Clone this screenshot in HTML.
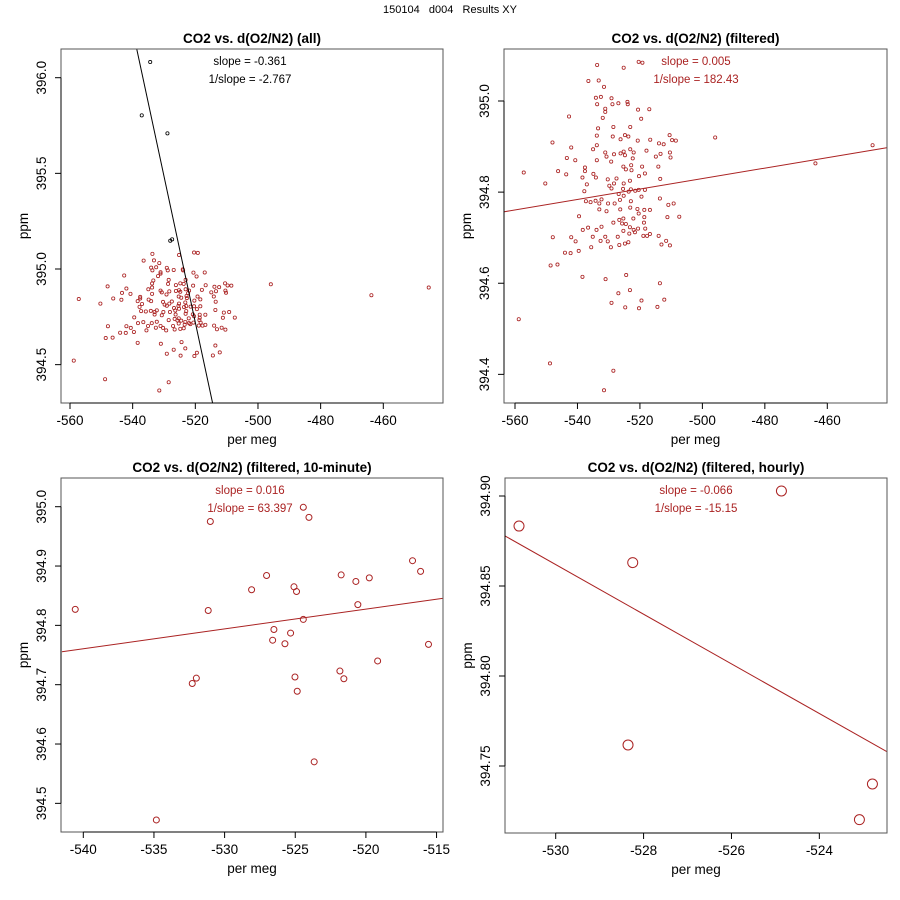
<!DOCTYPE html>
<html><head><meta charset="utf-8"><style>
body{margin:0;background:#fff;}
svg{display:block;font-family:"Liberation Sans",Arial,sans-serif;}
</style></head><body>
<svg id="chart" width="900" height="900" xmlns="http://www.w3.org/2000/svg">
<rect width="900" height="900" fill="#fff"/>
<text x="450" y="13" font-size="11" text-anchor="middle" style="white-space:pre">150104   d004   Results XY</text>
</svg>
<script>
// ---- data: filtered (red) raw points, shared by panels 1 & 2 ----
const rawX = [-533.7,-525.2,-520.4,-519.2,-536.5,-533.2,-531.5,-534.1,-532.5,-529.1,-533.7,-528.8,-526.9,-524.0,-523.9,-542.7,-531.1,-531.1,-531.9,-520.6,-517.0,-519.6,-533.4,-528.5,-523.1,
-548.0,-542.0,-533.8,-533.8,-528.7,-526.2,-524.8,-523.7,-520.7,-516.7,-513.9,-512.4,-510.5,-509.7,-508.5,-495.9,-445.5,-463.8,-557.2,-550.3,
-546.2,-543.6,-543.4,-540.7,-537.6,-537.6,-537.0,-538.4,-537.8,-534.9,-534.1,-533.8,-535.0,
-531.1,-530.7,-529.2,-528.3,-526.2,-525.2,-524.8,-523.1,-522.0,-517.9,-514.9,-514.1,-513.4,-510.4,-510.2,-519.3,-522.3,-522.8,-525.3,-524.5,-522.7,-520.3,-518.4,-513.5,-530.3,-527.5,-528.3,-525.2,-523.2,-525.4,-522.9,-520.4,-518.4,-526.8,-525.2,-523.6,-521.5,-519.5,-529.1,-529.8,
-537.3,-535.8,-534.2,-533.0,-530.2,-532.3,-533.0,-530.7,-528.1,-526.4,-522.9,-526.3,-523.1,-520.8,-518.6,-516.8,-513.6,-510.9,-509.2,-507.4,-511.2,-520.4,-518.6,-522.1,-525.3,-526.6,-528.5,-525.7,-524.5,-523.2,-522.0,-520.6,-518.7,-518.3,-517.7,-516.8,-514.0,-518.9,-521.6,-523.4,-525.3,-527.1,-530.3,-531.1,-532.6,-532.3,-533.9,-535.1,-538.3,-539.5,-536.6,-542.0,-540.6,-539.6,-542.2,-544.0,-546.4,-548.6,-547.9,-535.6,-529.3,-526.6,-524.8,-523.7,-513.1,-510.4,-511.6,
-524.4,-531.0,-513.6,-523.2,-526.9,-519.5,-512.2,-529.1,-524.7,-520.3,-514.4,-538.4,-558.8,-548.8,-528.5,-531.5];
const rawY = [395.079,395.073,395.086,395.084,395.044,395.045,395.031,395.007,395.009,395.006,394.993,394.993,394.995,394.998,394.993,394.966,394.983,394.976,394.963,394.981,394.982,394.961,394.940,394.943,394.943,
394.909,394.898,394.924,394.903,394.922,394.916,394.925,394.922,394.913,394.915,394.907,394.905,394.925,394.914,394.913,394.920,394.903,394.863,394.843,394.819,
394.846,394.839,394.875,394.870,394.854,394.846,394.817,394.832,394.802,394.840,394.832,394.870,394.894,
394.887,394.878,394.867,394.883,394.885,394.889,394.881,394.894,394.887,394.891,394.878,394.856,394.884,394.887,394.876,394.856,394.874,394.859,394.856,394.850,394.848,394.835,394.841,394.829,394.828,394.830,394.819,394.819,394.825,394.807,394.806,394.805,394.805,394.796,394.792,394.801,394.803,394.790,394.808,394.814,
394.780,394.778,394.781,394.775,394.775,394.784,394.762,394.758,394.775,394.783,394.780,394.762,394.766,394.763,394.761,394.761,394.786,394.772,394.775,394.746,394.745,394.753,394.745,394.742,394.742,394.739,394.733,394.731,394.730,394.723,394.717,394.720,394.733,394.720,394.704,394.708,394.704,394.704,394.712,394.709,394.715,394.702,394.692,394.702,394.693,394.724,394.717,394.702,394.717,394.747,394.722,394.701,394.692,394.671,394.666,394.667,394.641,394.639,394.701,394.679,394.679,394.684,394.687,394.690,394.685,394.683,394.693,
394.618,394.609,394.600,394.585,394.578,394.562,394.564,394.557,394.547,394.545,394.548,394.614,394.521,394.424,394.408,394.365];
// outliers (black) only in panel 1
const outX = [-534.4,-537.1,-528.9,-528.0,-527.4];
const outY = [396.082,395.803,395.709,395.148,395.155];
// 10-minute averages
const tenX = [-540.57,-534.83,-532.29,-532.00,-531.16,-531.01,-528.09,-527.03,-526.60,-526.51,-525.73,-525.33,-525.09,-525.02,-524.91,-524.86,-524.43,-524.43,-524.03,-523.66,-521.84,-521.75,-521.56,-520.71,-520.57,-519.76,-519.17,-516.70,-516.13,-515.57];
const tenY = [394.827,394.472,394.702,394.711,394.825,394.975,394.860,394.884,394.775,394.793,394.769,394.787,394.865,394.713,394.857,394.689,394.999,394.810,394.982,394.570,394.723,394.885,394.710,394.874,394.835,394.880,394.740,394.909,394.891,394.768];
// hourly averages
const hrX = [-530.835,-528.247,-528.354,-524.863,-523.088,-522.792];
const hrY = [394.8833,394.8630,394.7617,394.9028,394.7202,394.7400];
// regression lines: [x1,y1,x2,y2] in data units
const lineAll = [-538.7,396.15,-514.5,394.30];
const lineFilt = [-563.4,394.757,-441.0,394.8975];
const lineTen = [-541.51,394.7556,-514.58,394.8455];
const lineHr = [-531.153,394.8778,-522.466,394.7580];
// tick labels
const xt1 = [-560,-540,-520,-500,-480,-460];
const yt1 = [394.5,395.0,395.5,396.0];
const yt2 = [394.4,394.6,394.8,395.0];
const xt3 = [-540,-535,-530,-525,-520,-515];
const yt3 = [394.5,394.6,394.7,394.8,394.9,395.0];
const xt4 = [-530,-528,-526,-524];
const yt4 = [394.75,394.80,394.85,394.90];
const titles = ["CO2 vs. d(O2/N2) (all)","CO2 vs. d(O2/N2) (filtered)","CO2 vs. d(O2/N2) (filtered, 10-minute)","CO2 vs. d(O2/N2) (filtered, hourly)"];
const slopeTxt = ["slope = -0.361","slope = 0.005","slope = 0.016","slope = -0.066"];
const invTxt = ["1/slope = -2.767","1/slope = 182.43","1/slope = 63.397","1/slope = -15.15"];

const NS="http://www.w3.org/2000/svg";
const svg=document.getElementById('chart');
const RED="#aa2222";
function mk(tag,attrs,parent){const e=document.createElementNS(NS,tag);for(const k in attrs)e.setAttribute(k,attrs[k]);(parent||svg).appendChild(e);return e;}

const panels=[
 {L:61,R:443,T:49,B:403,x0:-560,px0:70,sx:3.133,y0:396.0,py0:77.7,sy:191.3,xt:xt1,yt:yt1,yf:1,xf:0,col:"#000",ocx:250,ty:38},
 {L:504,R:887,T:49,B:403,x0:-560,px0:515,sx:3.123,y0:395.0,py0:101,sy:455.6,xt:xt1,yt:yt2,yf:1,xf:0,col:RED,ocx:696,ty:38},
 {L:61,R:443,T:478,B:832,x0:-540,px0:83.3,sx:14.13,y0:395.0,py0:506.7,sy:593.3,xt:xt3,yt:yt3,yf:1,xf:0,col:RED,ocx:250,ty:467},
 {L:505,R:887,T:478,B:833,x0:-530,px0:555.7,sx:43.94,y0:394.90,py0:496,sy:1800,xt:xt4,yt:yt4,yf:2,xf:0,col:RED,ocx:696,ty:467}
];
const series=[[rawX,rawY,1.6],[rawX,rawY,1.6],[tenX,tenY,3],[hrX,hrY,5]];
const lines=[lineAll,lineFilt,lineTen,lineHr];

panels.forEach((p,i)=>{
 const g=mk('g',{});
 
 
 const X=v=>p.px0+(v-p.x0)*p.sx;
 const Y=v=>p.py0-(v-p.y0)*p.sy;
 const cl=mk('clipPath',{id:'cp'+i},g);
 mk('rect',{x:p.L,y:p.T,width:p.R-p.L,height:p.B-p.T},cl);
 const t=mk('text',{x:(p.L+p.R)/2,y:p.ty+5,'font-size':13.5,'font-weight':'bold','text-anchor':'middle'},g);
 t.textContent=titles[i];
 
 
 const pts=mk('g',{'clip-path':'url(#cp'+i+')'},g);
 
 
 const [xs,ys,r]=series[i];
 if(i===0){
  outX.forEach((v,k)=>{const c=mk('circle',{cx:X(v),cy:Y(outY[k]),r:r,fill:'none',stroke:'#000','stroke-width':0.8},pts);
   
   });
 }
 xs.forEach((v,k)=>{const c=mk('circle',{cx:X(v),cy:Y(ys[k]),r:r,fill:'none',stroke:RED,'stroke-width':(i<2?0.8:1)},pts);
  
  });
 const ln=lines[i];
 const l=mk('line',{x1:X(ln[0]),y1:Y(ln[1]),x2:X(ln[2]),y2:Y(ln[3]),stroke:p.col,'stroke-width':1,'clip-path':'url(#cp'+i+')'},g);
 
 
 const b=mk('rect',{x:p.L,y:p.T,width:p.R-p.L,height:p.B-p.T,fill:'none',stroke:'#555','stroke-width':1},g);
 
 
 // x axis
 const xa=mk('g',{},g);
 
 
 mk('line',{x1:X(p.xt[0]),x2:X(p.xt[p.xt.length-1]),y1:p.B,y2:p.B,stroke:'#000'},xa);
 p.xt.forEach(v=>{mk('line',{x1:X(v),x2:X(v),y1:p.B,y2:p.B+6,stroke:'#000'},xa);
  const tt=mk('text',{x:X(v),y:p.B+22,'font-size':13.5,'text-anchor':'middle'},xa);tt.textContent=v.toFixed(p.xf);
  
  });
 const xl=mk('text',{x:(p.L+p.R)/2,y:p.B+41,'font-size':13.5,'text-anchor':'middle'},g);xl.textContent='per meg';
 
 
 // y axis
 const ya=mk('g',{},g);
 
 
 mk('line',{x1:p.L,x2:p.L,y1:Y(p.yt[0]),y2:Y(p.yt[p.yt.length-1]),stroke:'#000'},ya);
 p.yt.forEach(v=>{mk('line',{x1:p.L,x2:p.L-6,y1:Y(v),y2:Y(v),stroke:'#000'},ya);
  const tx=p.L-15,ty=Y(v);
  const tt=mk('text',{x:tx,y:ty,'font-size':13.5,'text-anchor':'middle',transform:'rotate(-90 '+tx+' '+ty+')'},ya);tt.textContent=v.toFixed(p.yf);
  
  });
 const yx=p.L-33,yy=(p.T+p.B)/2;
 const yl=mk('text',{x:yx,y:yy,'font-size':13.5,'text-anchor':'middle',transform:'rotate(-90 '+yx+' '+yy+')'},g);yl.textContent='ppm';
 
 
 // annotations
 const a1=mk('text',{x:p.ocx,y:p.T+16,'font-size':11.5,'text-anchor':'middle',fill:p.col},g);a1.textContent=slopeTxt[i];
 
 
 const a2=mk('text',{x:p.ocx,y:p.T+34,'font-size':11.5,'text-anchor':'middle',fill:p.col},g);a2.textContent=invTxt[i];
 
 
});
</script>
</body></html>
